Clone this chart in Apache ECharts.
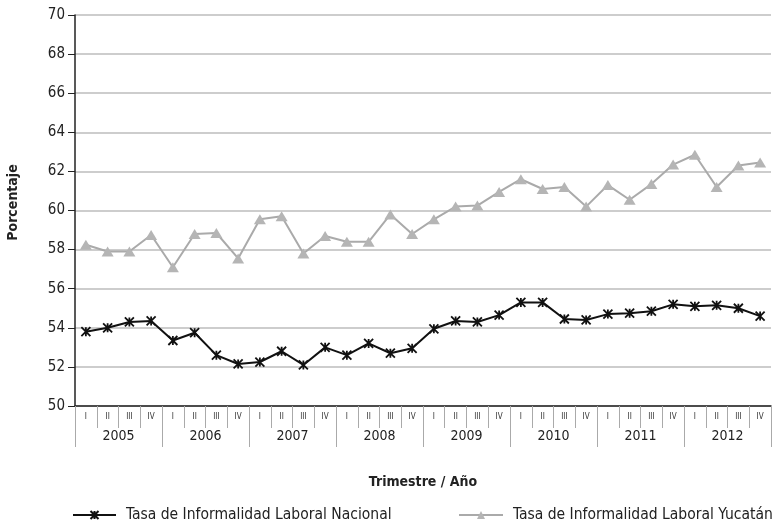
<!DOCTYPE html>
<html>
<head>
<meta charset="utf-8">
<script src="https://cdn.jsdelivr.net/npm/echarts@6/dist/echarts.min.js"></script>
<style>
  html, body { margin: 0; padding: 0; background: #fff; }
  #chart { width: 777px; height: 528px; }
</style>
</head>
<body>
<div id="chart"></div>
<script>
const years = ["2005", "2006", "2007", "2008", "2009", "2010", "2011", "2012"];
const quarterNames = ["I", "II", "III", "IV"];
const quarters = years.flatMap((y) => quarterNames.map((q) => q + " " + y));

const nacional = [
  53.8, 54.0, 54.3, 54.35, 53.35, 53.75, 52.6, 52.15,
  52.25, 52.8, 52.1, 53.0, 52.6, 53.2, 52.7, 52.95,
  53.95, 54.35, 54.3, 54.65, 55.3, 55.3, 54.45, 54.4,
  54.7, 54.75, 54.85, 55.2, 55.1, 55.15, 55.0, 54.6,
];
const yucatan = [
  58.25, 57.9, 57.9, 58.75, 57.1, 58.8, 58.85, 57.55,
  59.55, 59.7, 57.8, 58.7, 58.4, 58.4, 59.8, 58.8,
  59.55, 60.2, 60.25, 60.95, 61.6, 61.1, 61.2, 60.2,
  61.3, 60.55, 61.35, 62.35, 62.85, 61.2, 62.3, 62.45,
];

const font = "'DejaVu Sans Condensed', 'Liberation Sans Narrow', sans-serif";
const starPath = "path://M0,0L10,10M10,0L0,10M5,0L5,10";

const chart = echarts.init(document.getElementById("chart"));
const legendText = { fontFamily: font, fontSize: 15.5, color: "#222", padding: [0, 0, 0, 5] };
const option = {
  animation: false,
  textStyle: { fontFamily: font },
  grid: { left: 75, right: 6, top: 15, bottom: 122, outerBoundsMode: "none", containLabel: false },
  legend: [
    {
      left: 67,
      top: 502,
      itemWidth: 43,
      itemHeight: 10,
      textStyle: legendText,
      data: ["Tasa de Informalidad Laboral Nacional"],
    },
    {
      left: 453,
      top: 502,
      itemWidth: 44,
      itemHeight: 10,
      textStyle: legendText,
      data: ["Tasa de Informalidad Laboral Yucatán"],
    },
  ],
  xAxis: [
    {
      type: "category",
      data: quarters,
      boundaryGap: true,
      name: "Trimestre / Año",
      nameLocation: "middle",
      nameGap: 69,
      nameTextStyle: { fontFamily: font, fontSize: 14, fontWeight: "bold", color: "#222" },
      axisLine: { lineStyle: { color: "#222", width: 1.5 } },
      axisTick: { show: true, length: 22, lineStyle: { color: "#aaa" } },
      axisLabel: {
        interval: 0,
        margin: 7,
        fontSize: 8,
        color: "#333",
        formatter: (v) => v.split(" ")[0],
      },
    },
    {
      type: "category",
      data: years,
      position: "bottom",
      boundaryGap: true,
      axisLine: { show: false },
      axisTick: { show: true, length: 41, lineStyle: { color: "#aaa" } },
      axisLabel: { interval: 0, margin: 23, fontSize: 14, color: "#222" },
    },
  ],
  yAxis: {
    type: "value",
    min: 50,
    max: 70,
    interval: 2,
    name: "Porcentaje",
    nameLocation: "middle",
    nameGap: 55,
    nameTextStyle: { fontFamily: font, fontSize: 14, fontWeight: "bold", color: "#222", padding: [0, 0, 0, 16] },
    axisLine: { show: true, lineStyle: { color: "#222", width: 1.5 } },
    axisTick: { show: true, length: 7, lineStyle: { color: "#222" } },
    axisLabel: { fontSize: 15, color: "#222", margin: 10 },
    splitLine: { lineStyle: { color: "#bdbdbd", width: 1.5 } },
  },
  series: [
    {
      name: "Tasa de Informalidad Laboral Nacional",
      type: "line",
      data: nacional,
      symbol: starPath,
      symbolSize: 9,
      lineStyle: { color: "#111", width: 2 },
      itemStyle: { color: "#111", borderColor: "#111", borderWidth: 1.8 },
      z: 3,
    },
    {
      name: "Tasa de Informalidad Laboral Yucatán",
      type: "line",
      data: yucatan,
      symbol: "triangle",
      symbolSize: [12, 10],
      lineStyle: { color: "#aaa", width: 2 },
      itemStyle: { color: "#b5b5b5" },
      z: 2,
    },
  ],
};
chart.setOption(option);
</script>
</body>
</html>
